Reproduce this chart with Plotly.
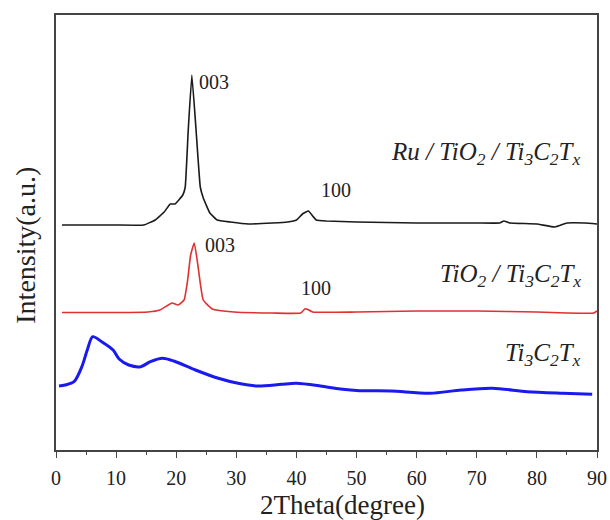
import plotly.graph_objects as go

# Ru / TiO2 / Ti3C2Tx (black)
ru_x = [1, 5, 10, 14.6, 16.5, 18, 19, 19.8, 21.1, 21.5, 22.0, 22.6, 23.3, 24.0, 24.5, 25.6, 26.8, 29, 32, 36, 38.5, 40, 41, 42, 42.7, 43.3, 45, 50, 60, 70, 73.8, 74.5, 75.5, 80, 83, 85, 88, 90]
ru_py = [225, 225, 225, 225, 220, 212, 204, 204, 195, 187, 130, 75, 130, 187, 198, 213, 220, 222, 224, 223, 222, 220, 214, 211, 216, 220, 221, 222, 223, 223, 223, 221, 223, 224, 227, 223, 223, 224]

# TiO2 / Ti3C2Tx (red)
ti_x = [1, 5, 10, 15.3, 17.3, 19.3, 20.3, 21.3, 21.9, 22.4, 23.0, 23.6, 24.5, 26, 29.6, 36, 40.7, 41.4, 41.7, 42.7, 50, 60, 70, 80, 85, 89.5, 90]
ti_py = [312.5, 312.5, 312.5, 312, 310, 303, 305, 300, 280, 255, 243, 265, 300, 309, 312, 313, 313, 309, 309, 312, 312, 311, 311, 312, 313, 313, 311]

# Ti3C2Tx (blue)
mx_x = [0.5, 1.5, 3, 4.3, 5.2, 6.1, 7.6, 9.5, 10.5, 12.1, 14.1, 15.7, 17.7, 19.6, 23.2, 27, 30.3, 33.5, 37.5, 40, 44, 47.3, 50.5, 55.7, 62.2, 67.4, 72.6, 78.4, 84.3, 89.2]
mx_py = [386, 385, 381.7, 366.7, 350, 336.7, 341.7, 350, 359, 365, 366.7, 361.7, 358.3, 361, 370, 378.3, 383.3, 386, 384.3, 383.3, 386, 389, 390.7, 391, 393.3, 390, 388.3, 391.7, 393.3, 394.3]

x_ticks = [0, 10, 20, 30, 40, 50, 60, 70, 80, 90]

BOTTOM = 450
def inten(py):
    return [BOTTOM - v for v in py]

fig = go.Figure()
fig.add_trace(go.Scatter(x=ru_x, y=inten(ru_py), mode="lines", line_shape="spline",
                         line=dict(color="#1a1a1a", width=1.6, smoothing=0.3), name="Ru/TiO2/Ti3C2Tx"))
fig.add_trace(go.Scatter(x=ti_x, y=inten(ti_py), mode="lines", line_shape="spline",
                         line=dict(color="#e03030", width=1.6, smoothing=0.4), name="TiO2/Ti3C2Tx"))
fig.add_trace(go.Scatter(x=mx_x, y=inten(mx_py), mode="lines", line_shape="spline",
                         line=dict(color="#1a1aee", width=3, smoothing=0.8), name="Ti3C2Tx"))

serif = "Liberation Serif"
ann = []
def txt(x, y, s, size=20, xanchor="left", color="#222"):
    ann.append(dict(x=x, y=y, xref="x", yref="y", text=s, showarrow=False,
                    xanchor=xanchor, yanchor="middle",
                    font=dict(family=serif, size=size, color=color)))

txt(23.5, BOTTOM - 82, "003")
txt(24.4, BOTTOM - 245, "003")
txt(43.7, BOTTOM - 190, "100")
txt(40.5, BOTTOM - 288, "100")
txt(87.6, BOTTOM - 153, "<i>Ru / TiO<sub>2</sub> / Ti<sub>3</sub>C<sub>2</sub>T<sub>x</sub></i>", size=25, xanchor="right")
txt(87.6, BOTTOM - 275, "<i>TiO<sub>2</sub> / Ti<sub>3</sub>C<sub>2</sub>T<sub>x</sub></i>", size=25, xanchor="right")
txt(87.6, BOTTOM - 354, "<i>Ti<sub>3</sub>C<sub>2</sub>T<sub>x</sub></i>", size=25, xanchor="right")

ann.append(dict(x=-0.057, y=0.47, xref="paper", yref="paper", text="Intensity(a.u.)",
                textangle=-90, showarrow=False, xanchor="center", yanchor="middle",
                font=dict(family=serif, size=28, color="#222")))
ann.append(dict(x=0.530, y=-0.126, xref="paper", yref="paper", text="2Theta(degree)",
                showarrow=False, xanchor="center", yanchor="middle",
                font=dict(family=serif, size=27, color="#222")))

fig.update_layout(
    width=610, height=520,
    margin=dict(l=56, r=13, t=15, b=70),
    paper_bgcolor="white", plot_bgcolor="white",
    showlegend=False,
    annotations=ann,
    font=dict(family=serif, color="#222"),
    xaxis=dict(range=[0, 90], tickvals=x_ticks, ticks="outside", ticklen=6, tickwidth=1.3,
               tickcolor="#444", showline=True, linecolor="#444", linewidth=1.5, mirror=True,
               showgrid=False, zeroline=False, automargin=False, ticklabelstandoff=3,
               minor=dict(dtick=5, ticks="outside", ticklen=3, tickwidth=1.2, tickcolor="#444"),
               tickfont=dict(family=serif, size=20, color="#222")),
    yaxis=dict(range=[0, 435], showticklabels=False, ticks="", showline=True, linecolor="#444",
               linewidth=1.5, mirror=True, showgrid=False, zeroline=False, automargin=False),
)

fig.write_html("out.html", config={"displayModeBar": False},
               post_script="document.body.style.margin='0';document.body.style.overflow='hidden';")
